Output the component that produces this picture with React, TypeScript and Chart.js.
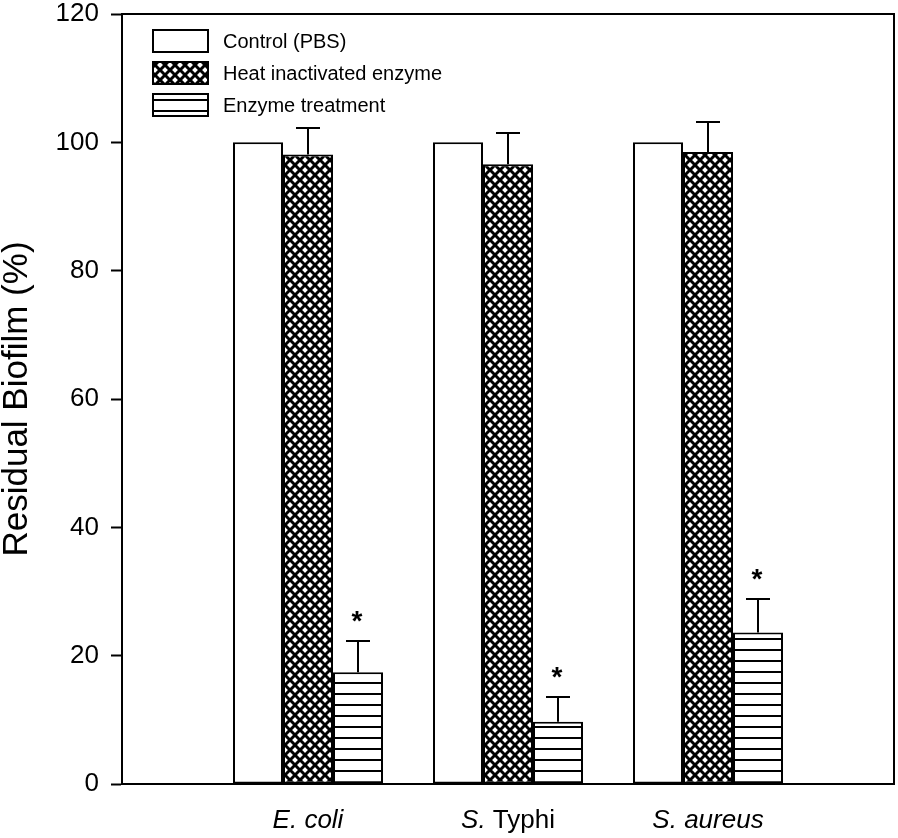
import React, { useEffect, useRef } from "react";
import { Chart, registerables } from "chart.js";

Chart.register(...registerables);

// ---- data ----
const categories = ["E. coli", "S. Typhi", "S. aureus"];
// italic parts of each category label (species names)
const categoryLabelParts: { text: string; italic: boolean }[][] = [
  [{ text: "E. coli", italic: true }],
  [
    { text: "S.", italic: true },
    { text: " Typhi", italic: false },
  ],
  [{ text: "S. aureus", italic: true }],
];
const seriesNames = ["Control (PBS)", "Heat inactivated enzyme", "Enzyme treatment"];
const controlValues = [100, 100, 100];
const controlErrors = [0, 0, 0];
const heatValues = [98.1, 96.6, 98.5];
const heatErrors = [4.1, 4.8, 4.6];
const enzymeValues = [17.4, 9.7, 23.6];
const enzymeErrors = [4.9, 3.9, 5.3];
const enzymeSignificant = [true, true, true];
const yTicks = [0, 20, 40, 60, 80, 100, 120];
const yTitle = "Residual Biofilm (%)";

const FONT = "'Liberation Sans', Arial, Helvetica, sans-serif";

function makeCrossPattern(): CanvasPattern | string {
  const P = 10;
  const c = document.createElement("canvas");
  c.width = P;
  c.height = P;
  const g = c.getContext("2d");
  if (!g) return "#000";
  g.fillStyle = "#fff";
  g.fillRect(0, 0, P, P);
  g.strokeStyle = "#000";
  g.lineWidth = 3;
  for (const cc of [-P, 0, P, 2 * P]) {
    g.beginPath();
    g.moveTo(cc + 2 * P, -2 * P);
    g.lineTo(cc - 2 * P, 2 * P);
    g.stroke();
    g.beginPath();
    g.moveTo(cc - 2 * P, -2 * P);
    g.lineTo(cc + 2 * P, 2 * P);
    g.stroke();
  }
  const p = g.createPattern(c, "repeat");
  return p || "#000";
}

function makeHLinePattern(): CanvasPattern | string {
  const P = 11;
  const c = document.createElement("canvas");
  c.width = 4;
  c.height = P;
  const g = c.getContext("2d");
  if (!g) return "#000";
  g.fillStyle = "#fff";
  g.fillRect(0, 0, 4, P);
  g.fillStyle = "#000";
  g.fillRect(0, 0, 4, 2);
  const p = g.createPattern(c, "repeat");
  return p || "#000";
}

export default function App() {
  const ref = useRef<HTMLCanvasElement | null>(null);

  useEffect(() => {
    const canvas = ref.current;
    if (!canvas) return;
    const cross = makeCrossPattern();
    const hlines = makeHLinePattern();
    const fills = ["#ffffff", cross, hlines];
    const valuesList = [controlValues, heatValues, enzymeValues];
    const errorsList = [controlErrors, heatErrors, enzymeErrors];

    const framePlugin = {
      id: "frame",
      afterDraw(chart: any) {
        const { ctx, chartArea } = chart;
        ctx.save();
        ctx.strokeStyle = "#000";
        ctx.lineWidth = 2;
        ctx.beginPath();
        ctx.moveTo(chartArea.left, chartArea.top);
        ctx.lineTo(chartArea.right, chartArea.top);
        ctx.lineTo(chartArea.right, chartArea.bottom);
        ctx.stroke();
        ctx.restore();
      },
    };

    const errorPlugin = {
      id: "errbars",
      afterDatasetsDraw(chart: any) {
        const { ctx } = chart;
        const yScale = chart.scales.y;
        ctx.save();
        ctx.strokeStyle = "#000";
        ctx.lineWidth = 2;
        valuesList.forEach((vals, di) => {
          const meta = chart.getDatasetMeta(di);
          vals.forEach((v, i) => {
            const err = errorsList[di][i];
            if (!err) return;
            const el = meta.data[i];
            const x = Math.round(el.x);
            const y0 = yScale.getPixelForValue(v);
            const y1 = Math.round(yScale.getPixelForValue(v + err));
            ctx.beginPath();
            ctx.moveTo(x, y0);
            ctx.lineTo(x, y1);
            ctx.moveTo(x - 12, y1);
            ctx.lineTo(x + 12, y1);
            ctx.stroke();
            if (di === 2 && enzymeSignificant[i]) {
              ctx.fillStyle = "#000";
              ctx.font = `bold 28px ${FONT}`;
              ctx.textAlign = "center";
              ctx.textBaseline = "alphabetic";
              ctx.fillText("*", x - 1, y1 - 11);
            }
          });
        });
        ctx.restore();
      },
    };

    const xLabelPlugin = {
      id: "xlabels",
      afterDraw(chart: any) {
        const { ctx, chartArea } = chart;
        const xScale = chart.scales.x;
        ctx.save();
        ctx.fillStyle = "#000";
        ctx.textBaseline = "alphabetic";
        ctx.textAlign = "left";
        categories.forEach((_, i) => {
          const parts = categoryLabelParts[i];
          const cx = xScale.getPixelForValue(i + 1);
          let total = 0;
          const widths = parts.map((p) => {
            ctx.font = `${p.italic ? "italic " : ""}26px ${FONT}`;
            const w = ctx.measureText(p.text).width;
            total += w;
            return w;
          });
          let x = cx - total / 2;
          parts.forEach((p, k) => {
            ctx.font = `${p.italic ? "italic " : ""}26px ${FONT}`;
            ctx.fillText(p.text, x, chartArea.bottom + 44);
            x += widths[k];
          });
        });
        ctx.restore();
      },
    };

    const legendPlugin = {
      id: "customLegend",
      afterDraw(chart: any) {
        const { ctx, chartArea } = chart;
        ctx.save();
        const bx = chartArea.left + 31;
        const by = chartArea.top + 16;
        const bw = 55;
        const bh = 22;
        const gap = 32;
        seriesNames.forEach((name, i) => {
          const y = by + i * gap;
          ctx.fillStyle = fills[i] as any;
          ctx.fillRect(bx, y, bw, bh);
          ctx.strokeStyle = "#000";
          ctx.lineWidth = 2;
          ctx.strokeRect(bx, y, bw, bh);
          ctx.fillStyle = "#000";
          ctx.font = `20px ${FONT}`;
          ctx.textAlign = "left";
          ctx.textBaseline = "middle";
          ctx.fillText(name, bx + bw + 15, y + bh / 2 + 1);
        });
        ctx.restore();
      },
    };

    const chart = new Chart(canvas, {
      type: "bar",
      data: {
        datasets: valuesList.map((vals, di) => ({
          label: seriesNames[di],
          data: vals.map((v, i) => ({ x: i + 1, y: v })),
          backgroundColor: fills[di] as any,
          borderColor: "#000",
          borderWidth: 2,
          borderSkipped: false,
          categoryPercentage: 0.75,
          barPercentage: 1.0,
        })),
      },
      options: {
        responsive: false,
        animation: false,
        layout: { padding: { top: 14, right: 4, left: 0, bottom: 0 } },
        plugins: {
          legend: { display: false },
          tooltip: { enabled: false },
        },
        scales: {
          x: {
            type: "linear",
            offset: false,
            min: 0.07,
            max: 3.93,
            afterBuildTicks: (scale: any) => {
              scale.ticks = categories.map((_, i) => ({ value: i + 1 }));
            },
            afterFit: (scale: any) => {
              scale.height = 54;
              scale.paddingLeft = 0;
              scale.paddingRight = 0;
            },
            grid: { display: false, offset: false },
            border: { display: true, color: "#000", width: 2 },
            ticks: { display: false },
          },
          y: {
            type: "linear",
            min: 0,
            max: 120,
            afterBuildTicks: (scale: any) => {
              scale.ticks = yTicks.map((v) => ({ value: v }));
            },
            afterFit: (scale: any) => {
              scale.width = 122;
              scale.paddingTop = 0;
              scale.paddingBottom = 0;
            },
            grid: {
              display: true,
              drawOnChartArea: false,
              drawTicks: true,
              tickLength: 11,
              tickWidth: 2,
              tickColor: "#000",
            },
            border: { display: true, color: "#000", width: 2 },
            ticks: {
              color: "#000",
              padding: 12,
              font: { family: FONT, size: 26 },
            },
            title: {
              display: true,
              text: yTitle,
              color: "#000",
              font: { family: FONT, size: 35, lineHeight: 1.0 },
              padding: { top: 0, bottom: 0 },
            },
          },
        },
      },
      plugins: [framePlugin, errorPlugin, xLabelPlugin, legendPlugin],
    } as any);

    return () => {
      chart.destroy();
    };
  }, []);

  return (
    <div style={{ position: "fixed", left: 0, top: 0, width: 898, height: 838, background: "#fff" }}>
      <canvas ref={ref} width={898} height={838} style={{ display: "block", width: 898, height: 838 }} />
    </div>
  );
}
